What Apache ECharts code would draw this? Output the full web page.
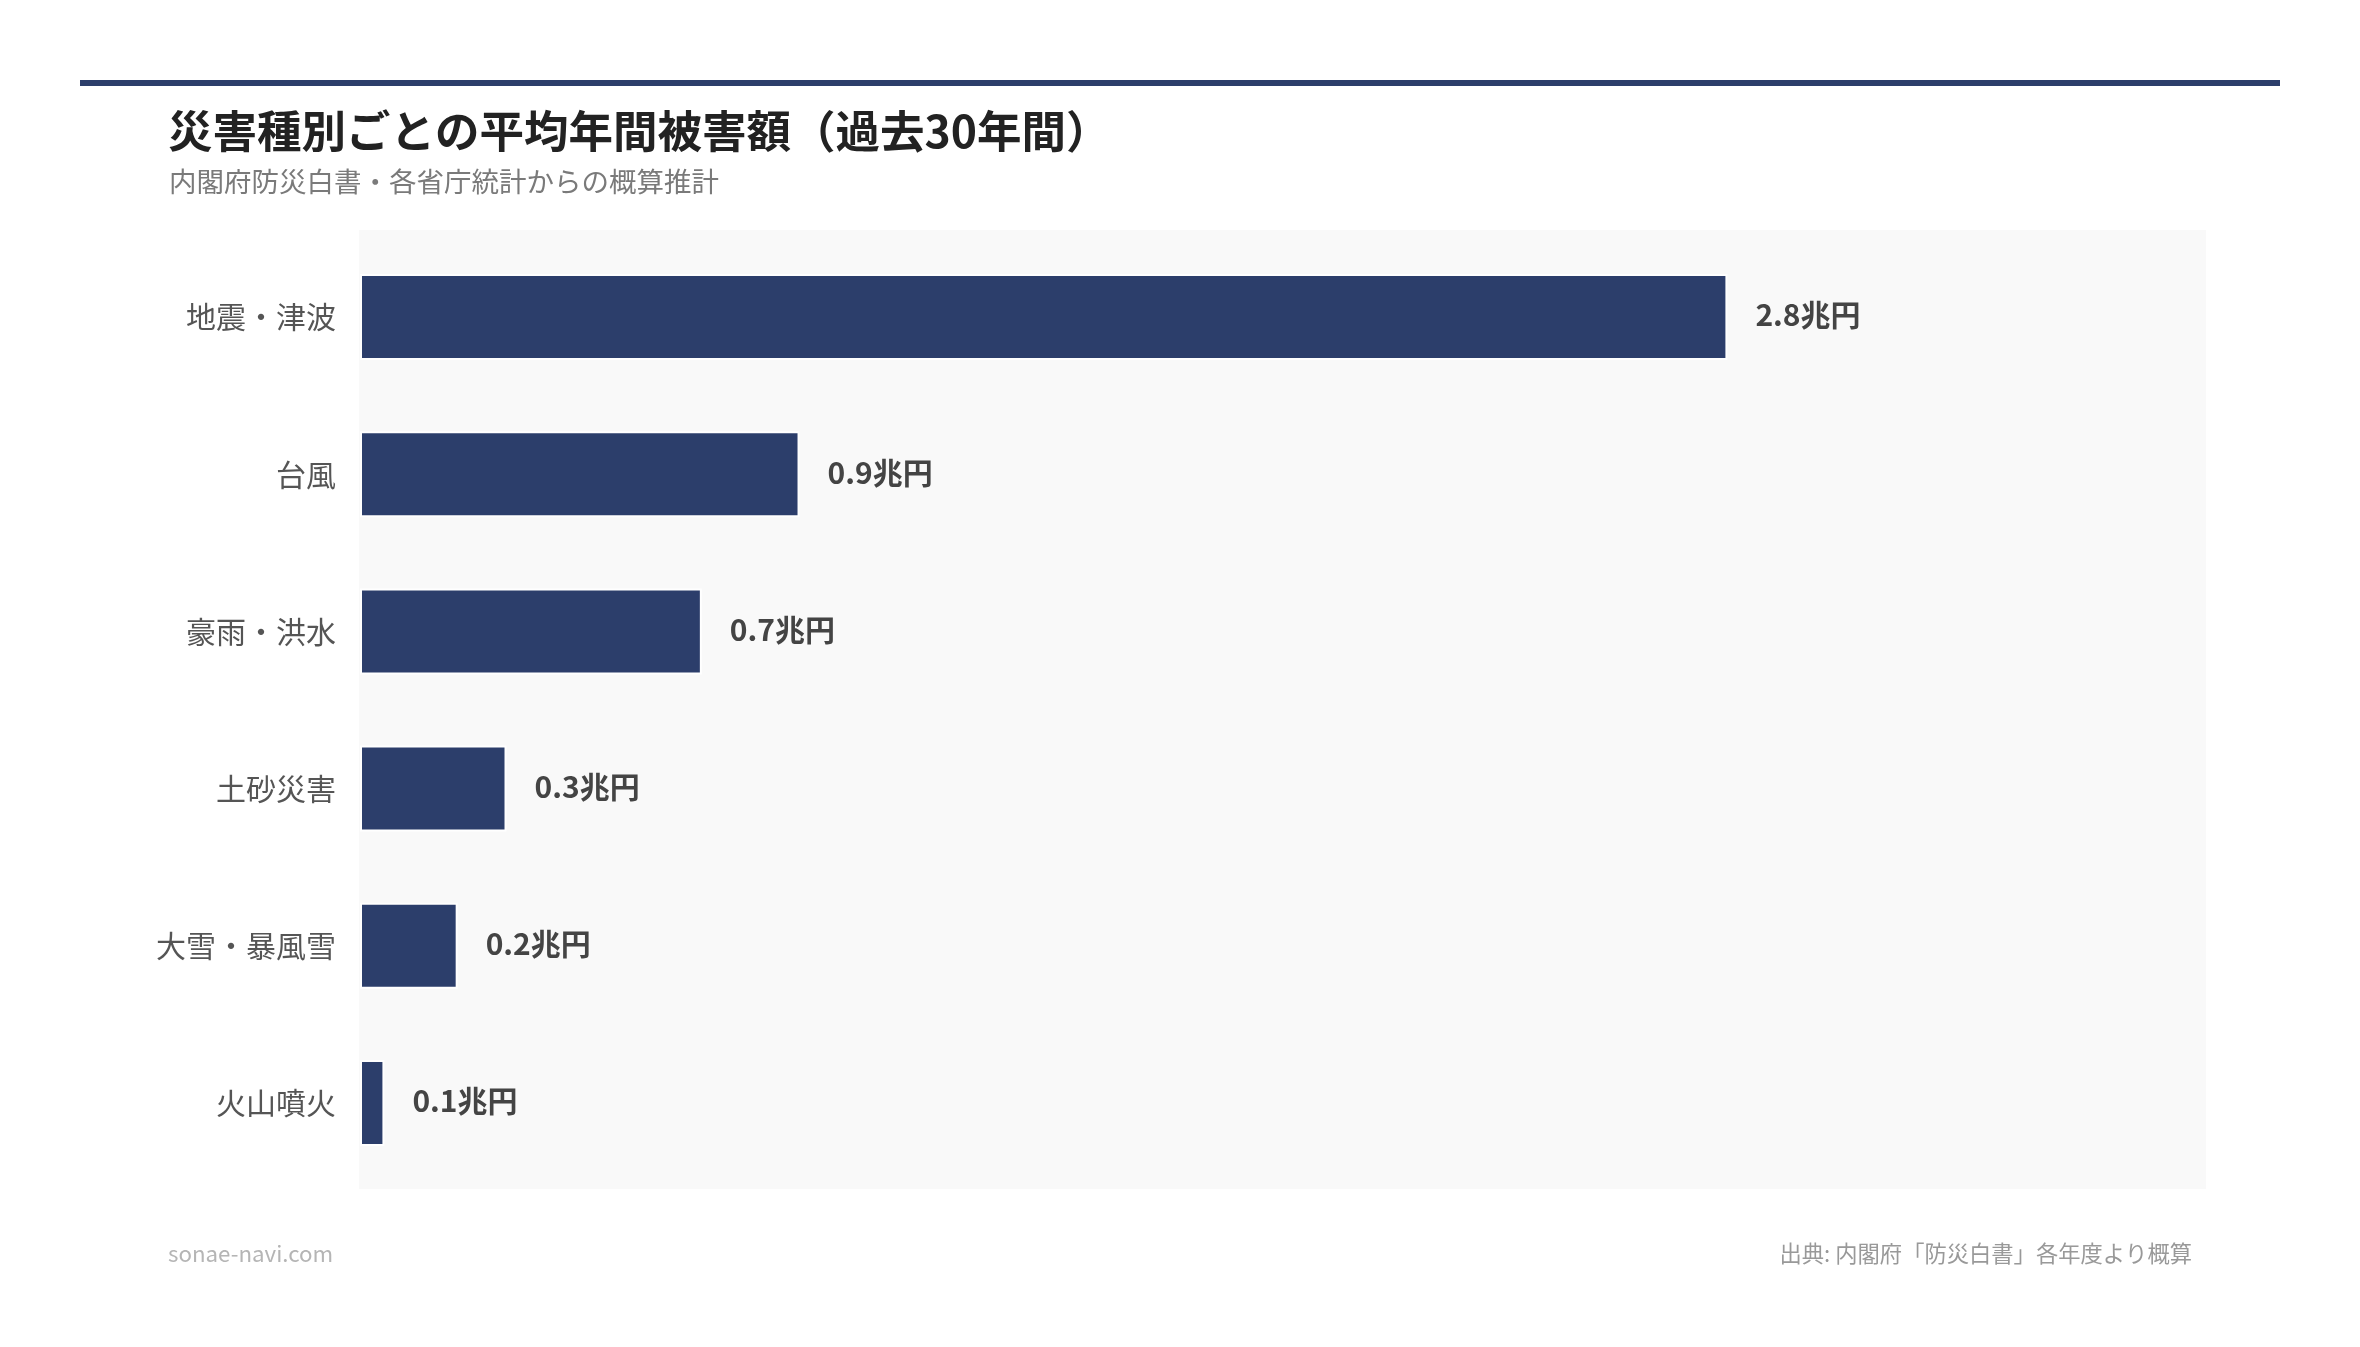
<!DOCTYPE html>
<html>
<head>
<meta charset="utf-8">
<style>
  html, body { margin: 0; padding: 0; background: #ffffff; }
  #chart { width: 2360px; height: 1347px; }
</style>
<script src="https://cdn.jsdelivr.net/npm/echarts@6/dist/echarts.min.js"></script>
</head>
<body>
<div id="chart"></div>
<script>
const titleText = '災害種別ごとの平均年間被害額（過去30年間）';
const subtitleText = '内閣府防災白書・各省庁統計からの概算推計';
const footerLeft = 'sonae-navi.com';
const footerRight = '出典: 内閣府「防災白書」各年度より概算';

const categories = ['地震・津波', '台風', '豪雨・洪水', '土砂災害', '大雪・暴風雪', '火山噴火'];
const values = [2.8, 0.9, 0.7, 0.3, 0.2, 0.05];
const valueLabels = ['2.8兆円', '0.9兆円', '0.7兆円', '0.3兆円', '0.2兆円', '0.1兆円'];

const FONT = '"Noto Sans CJK JP", "Noto Sans", sans-serif';
const NAVY = '#2c3e6b';

const chart = echarts.init(document.getElementById('chart'), null, { renderer: 'canvas' });

chart.setOption({
  backgroundColor: '#ffffff',
  animation: false,
  textStyle: { fontFamily: FONT },
  graphic: [
    { type: 'rect', z: 0, silent: true, shape: { x: 80, y: 80, width: 2200, height: 6 }, style: { fill: NAVY } },
    { type: 'rect', z: 0, silent: true, shape: { x: 359, y: 230, width: 1847, height: 959 }, style: { fill: '#f9f9f9' } },
    { type: 'text', z: 1, left: 168, top: 109, style: { text: titleText, font: 'bold 44.5px ' + FONT, fill: '#222222' } },
    { type: 'text', z: 1, left: 169, top: 168, style: { text: subtitleText, font: '27.5px ' + FONT, fill: '#7a7a7a' } },
    { type: 'text', z: 1, left: 168, top: 1242, style: { text: footerLeft, font: '22.3px ' + FONT, fill: '#b5b5b5' } },
    { type: 'text', z: 1, right: 2360 - 2192, top: 1242, style: { text: footerRight, font: '22.3px ' + FONT, fill: '#999999' } }
  ],
  grid: { left: 360, right: 154, top: 238.5, bottom: 165.5, containLabel: false },
  xAxis: {
    type: 'value',
    min: 0,
    max: function (v) { return v.max * 1.35; },
    show: false,
    splitLine: { show: false }
  },
  yAxis: {
    type: 'category',
    data: categories,
    inverse: true,
    axisLine: { show: false },
    axisTick: { show: false },
    splitLine: { show: false },
    axisLabel: { margin: 24, fontSize: 30, color: '#555555', fontFamily: FONT }
  },
  series: [{
    type: 'bar',
    data: values,
    barWidth: 86,
    itemStyle: { color: NAVY, borderColor: '#ffffff', borderWidth: 2 },
    label: {
      show: true,
      position: 'right',
      distance: 28,
      offset: [0, -2],
      fontSize: 30,
      fontWeight: 'bold',
      color: '#444444',
      fontFamily: FONT,
      formatter: function (p) { return valueLabels[p.dataIndex]; }
    }
  }]
});
</script>
</body>
</html>
